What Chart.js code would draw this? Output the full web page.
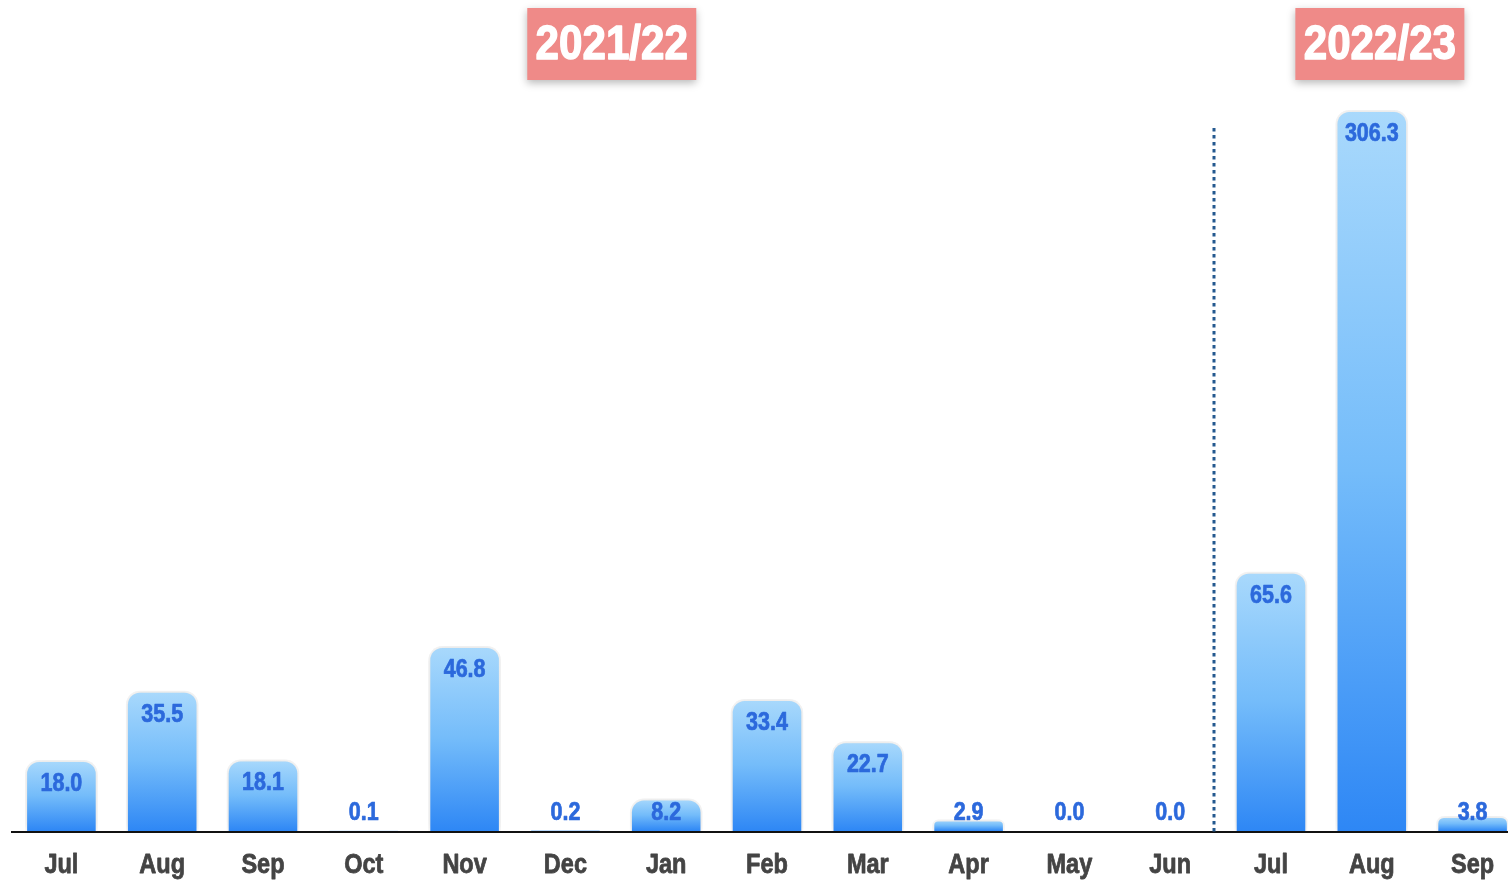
<!DOCTYPE html>
<html>
<head>
<meta charset="utf-8">
<script src="https://cdn.jsdelivr.net/npm/chart.js@4.4.0/dist/chart.umd.min.js"></script>
<style>
    html, body { margin: 0; padding: 0; background: #ffffff; overflow: hidden; }
    #wrap { position: absolute; left: 0; top: 0; width: 1523px; height: 881px; }
</style>
</head>
<body>
<div id="wrap"><canvas id="rainChart"></canvas></div>
<script>
// Monthly values, Jul 2021 .. Sep 2022
const months = ['Jul', 'Aug', 'Sep', 'Oct', 'Nov', 'Dec', 'Jan', 'Feb', 'Mar', 'Apr', 'May', 'Jun', 'Jul', 'Aug', 'Sep'];
const values = [18.0, 35.5, 18.1, 0.1, 46.8, 0.2, 8.2, 33.4, 22.7, 2.9, 0.0, 0.0, 65.6, 306.3, 3.8];

// Season boxes drawn above the plot (position given on the category axis)
const seasons = ['2021/22', '2022/23'];
const seasonCenters = [5.46, 13.08];
const seasonDivider = 11.43;

// The tallest bar is cut off at the top of the plot (broken axis)
const AXIS_BREAK = 182.5;
const plotted = values.map(v => Math.min(v, AXIS_BREAK));

const FONT = "'Liberation Sans', Arial, sans-serif";

// Draw heavy bold text squeezed horizontally, to look like a condensed face
function condensedText(ctx, text, x, y, size, color, squeeze, weight) {
    ctx.save();
    ctx.font = 'bold ' + size + 'px ' + FONT;
    ctx.fillStyle = color;
    ctx.strokeStyle = color;
    ctx.lineWidth = weight;
    ctx.lineJoin = 'round';
    ctx.textAlign = 'center';
    ctx.textBaseline = 'middle';
    ctx.translate(x, y);
    ctx.scale(squeeze, 1);
    ctx.fillText(text, 0, 0);
    if (weight > 0) ctx.strokeText(text, 0, 0);
    ctx.restore();
}

function barGradient(context) {
    const chart = context.chart;
    const area = chart.chartArea;
    if (!area) return '#5aa8f8';
    const y = chart.scales.y;
    const v = plotted[context.dataIndex];
    const top = y.getPixelForValue(v);
    const bottom = y.getPixelForValue(0);
    if (bottom - top < 1) return '#4a9cf7';
    const g = chart.ctx.createLinearGradient(0, top, 0, bottom);
    g.addColorStop(0, '#a9d9fc');
    g.addColorStop(0.5, '#74bcfa');
    g.addColorStop(1, '#2e87f5');
    return g;
}

// Soft shadow behind the bars
const barShadow = {
    id: 'barShadow',
    beforeDatasetsDraw(chart) {
        const ctx = chart.ctx;
        ctx.save();
        ctx.shadowColor = 'rgba(0,0,0,0.16)';
        ctx.shadowBlur = 10;
    },
    afterDatasetsDraw(chart) {
        chart.ctx.restore();
    }
};

// Month labels, value labels, divider line and season boxes
const decorations = {
    id: 'decorations',
    afterDraw(chart) {
        const ctx = chart.ctx;
        const x = chart.scales.x;
        const y = chart.scales.y;
        const base = y.getPixelForValue(0);

        // axis line
        ctx.save();
        ctx.strokeStyle = '#111111';
        ctx.lineWidth = 2;
        ctx.beginPath();
        ctx.moveTo(chart.chartArea.left, base + 1);
        ctx.lineTo(chart.width, base + 1);
        ctx.stroke();
        ctx.restore();

        // month labels
        months.forEach((m, i) => {
            condensedText(ctx, m, x.getPixelForValue(i), base + 34, 28, '#444444', 0.84, 0.8);
        });

        // dotted divider between seasons
        ctx.save();
        ctx.fillStyle = '#24598f';
        const dx = Math.round(x.getPixelForValue(seasonDivider));
        for (let py = 128; py < base - 2; py += 7) {
            ctx.fillRect(dx - 1.5, py, 3, 3.5);
        }
        ctx.restore();

        // value labels
        chart.getDatasetMeta(0).data.forEach((bar, i) => {
            const ly = Math.min(bar.y + 24, base - 18);
            condensedText(ctx, values[i].toFixed(1), bar.x, ly, 25, '#2c69dc', 0.86, 0.7);
        });

        // season boxes
        seasons.forEach((label, i) => {
            const cx = x.getPixelForValue(seasonCenters[i]);
            const w = 169, h = 72, top = 8;
            ctx.save();
            ctx.shadowColor = 'rgba(0,0,0,0.28)';
            ctx.shadowBlur = 8;
            ctx.shadowOffsetY = 3;
            ctx.fillStyle = '#ef8a88';
            ctx.fillRect(cx - w / 2, top, w, h);
            ctx.restore();
            condensedText(ctx, label, cx, top + h / 2 + 1, 49, '#ffffff', 0.86, 1.4);
        });
    }
};

const ctx = document.getElementById('rainChart').getContext('2d');

new Chart(ctx, {
    type: 'bar',
    data: {
        labels: months,
        datasets: [{
            data: plotted,
            backgroundColor: barGradient,
            borderColor: 'rgba(255,255,255,0.85)',
            borderWidth: { top: 2, left: 2, right: 2, bottom: 0 },
            borderSkipped: 'bottom',
            borderRadius: { topLeft: 14, topRight: 14, bottomLeft: 0, bottomRight: 0 },
            categoryPercentage: 1.0,
            barPercentage: 0.72
        }]
    },
    options: {
        responsive: true,
        maintainAspectRatio: false,
        animation: false,
        layout: {
            padding: { top: 110, left: 11, right: 0, bottom: 50 }
        },
        scales: {
            y: {
                display: false,
                min: 0,
                max: AXIS_BREAK
            },
            x: {
                grid: { display: false, drawTicks: false },
                border: { display: false },
                ticks: { display: false }
            }
        },
        plugins: {
            legend: { display: false },
            tooltip: { enabled: false }
        }
    },
    plugins: [barShadow, decorations]
});
</script>
</body>
</html>
